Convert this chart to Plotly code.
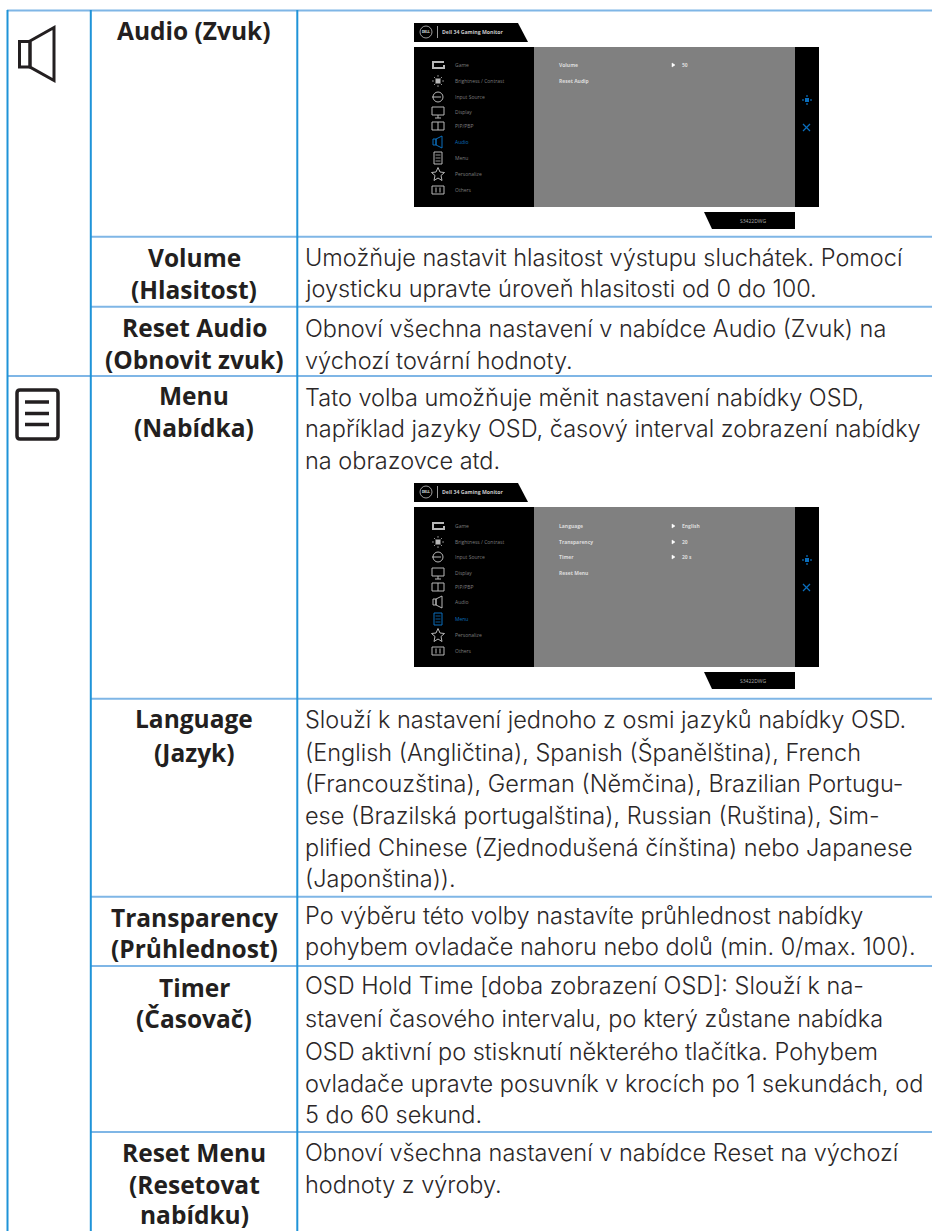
import plotly.graph_objects as go

W, H = 932, 1231
FONT = "Open Sans"
BODY = "Inter"
INK = "#231f20"

# ---------- content ----------
left_labels = ["Audio (Zvuk)", "Volume", "(Hlasitost)", "Reset Audio", "(Obnovit zvuk)", "Menu", "(Nabídka)",
               "Language", "(Jazyk)", "Transparency", "(Průhlednost)", "Timer", "(Časovač)",
               "Reset Menu", "(Resetovat", "nabídku)"]
right_lines = ["Umožňuje nastavit hlasitost výstupu sluchátek. Pomocí",
               "joysticku upravte úroveň hlasitosti od 0 do 100.",
               "Obnoví všechna nastavení v nabídce Audio (Zvuk) na",
               "výchozí tovární hodnoty.",
               "Tato volba umožňuje měnit nastavení nabídky OSD,",
               "například jazyky OSD, časový interval zobrazení nabídky",
               "na obrazovce atd.",
               "Slouží k nastavení jednoho z osmi jazyků nabídky OSD.",
               "(English (Angličtina), Spanish (Španělština), French",
               "(Francouzština), German (Němčina), Brazilian Portugu-",
               "ese (Brazilská portugalština), Russian (Ruština), Sim-",
               "plified Chinese (Zjednodušená čínština) nebo Japanese",
               "(Japonština)).",
               "Po výběru této volby nastavíte průhlednost nabídky",
               "pohybem ovladače nahoru nebo dolů (min. 0/max. 100).",
               "OSD Hold Time [doba zobrazení OSD]: Slouží k na-",
               "stavení časového intervalu, po který zůstane nabídka",
               "OSD aktivní po stisknutí některého tlačítka. Pohybem",
               "ovladače upravte posuvník v krocích po 1 sekundách, od",
               "5 do 60 sekund.",
               "Obnoví všechna nastavení v nabídce Reset na výchozí",
               "hodnoty z výroby."]
osd_menu = ["Game", "Brightness / Contrast", "Input Source", "Display", "PIP/PBP", "Audio", "Menu", "Personalize", "Others"]
osd_title = "Dell 34 Gaming Monitor"
osd_model = "S3422DWG"
osd1_items = ["Volume", "Reset Audip"]
osd1_vals = ["50"]
osd2_items = ["Language", "Transparency", "Timer", "Reset Menu"]
osd2_vals = ["English", "20", "20 s"]

# ---------- layout positions (page pixels) ----------
left_y = [30, 257, 289, 327, 359, 395, 427, 718, 752, 917, 948, 987, 1018, 1152, 1184, 1214]
right_y = [257, 288, 328, 360, 397, 428, 460, 719, 752, 783, 815, 847, 878, 915, 946, 985, 1018, 1051, 1083, 1114, 1152, 1184]
h_rules = [236.7, 306.7, 376, 698.7, 896.7, 966, 1132]

shapes, ann = [], []

def txt(x, y, s, size, color=INK, bold=False, anchor="left", font=FONT, weight=None):
    f = dict(family=font, size=size, color=color)
    if weight:
        f["weight"] = weight
    ann.append(dict(x=x, y=y, text=f"<b>{s}</b>" if bold else s, showarrow=False, xanchor=anchor, yanchor="middle",
                    xref="x", yref="y", font=f, borderpad=0, borderwidth=0))

def rect(x0, y0, x1, y1, fill, line=None, lw=0):
    shapes.append(dict(type="rect", x0=x0, y0=y0, x1=x1, y1=y1, fillcolor=fill, line=dict(color=line or fill, width=lw), layer="above"))

def poly(pts, fill="rgba(0,0,0,0)", line=INK, lw=1.0, close=True):
    d = "M" + " L".join(f"{x},{y}" for x, y in pts) + (" Z" if close else "")
    shapes.append(dict(type="path", path=d, fillcolor=fill, line=dict(color=line, width=lw), layer="above"))

def seg(x0, y0, x1, y1, color, lw):
    shapes.append(dict(type="line", x0=x0, y0=y0, x1=x1, y1=y1, line=dict(color=color, width=lw), layer="above"))

# ---------- table rules ----------
V_C, H_C = "#1f93d8", "#7fb6e6"
seg(7, 10.5, 932, 10.5, H_C, 2)
for y in h_rules:
    seg(91, y, 932, y, H_C, 2)
seg(7, 376, 91, 376, H_C, 2)
seg(7.5, 10, 7.5, H, V_C, 2)
seg(90.8, 10, 90.8, H, V_C, 2)
seg(297.3, 10, 297.3, H, V_C, 2)

# ---------- left icons ----------
rect(19.5, 41.5, 30, 67, "rgba(0,0,0,0)", INK, 3)
poly([(30, 41), (54, 27.5), (54, 80.5), (30, 67)], line=INK, lw=3)
shapes.append(dict(type="path", path="M20,390 L55,390 Q58,390 58,393 L58,436 Q58,439 55,439 L20,439 Q17,439 17,436 L17,393 Q17,390 20,390 Z",
                   line=dict(color=INK, width=3.5), fillcolor="rgba(0,0,0,0)", layer="above"))
for y in (402, 413.5, 424.5):
    seg(25, y, 49, y, INK, 3.5)

# ---------- table text ----------
for s, y in zip(left_labels, left_y):
    txt(194, y, s, 24.5, bold=True, anchor="center")
for s, y in zip(right_lines, right_y):
    txt(305, y, s, 23.5, font=BODY, weight=300, color="#2b2728")

# ---------- OSD screenshots ----------
def speaker(x, y, c):
    rect(x - 3, y - 3, x, y + 3, "rgba(0,0,0,0)", c, 1)
    poly([(x, y - 3), (x + 6, y - 6), (x + 6, y + 6), (x, y + 3)], line=c, lw=1)

def osd_icon(i, x, y, c):
    if i == 0:
        poly([(x + 6, y - 3), (x - 5, y - 3), (x - 5, y + 3), (x + 6, y + 3), (x + 6, y)], line=c, lw=2, close=False)
    elif i == 1:
        rect(x - 2.5, y - 2.5, x + 2.5, y + 2.5, c)
        for dx, dy in [(-6, 0), (6, 0), (0, -6), (0, 6), (-4, -4), (4, 4), (-4, 4), (4, -4)]:
            seg(x + dx * .7, y + dy * .7, x + dx, y + dy, c, .8)
    elif i == 2:
        shapes.append(dict(type="circle", x0=x - 5, y0=y - 5, x1=x + 5, y1=y + 5, line=dict(color=c, width=1), layer="above"))
        seg(x - 6, y, x + 3, y, c, 1)
    elif i == 3:
        rect(x - 6, y - 5, x + 6, y + 3, "rgba(0,0,0,0)", c, 1)
        seg(x, y + 3, x, y + 6, c, 1)
        seg(x - 3, y + 6, x + 3, y + 6, c, 1)
    elif i == 4:
        rect(x - 6, y - 4, x + 6, y + 4, "rgba(0,0,0,0)", c, 1)
        seg(x, y - 4, x, y + 4, c, 1)
    elif i == 5:
        speaker(x - 2, y, c)
    elif i == 6:
        rect(x - 4, y - 6, x + 4, y + 6, "rgba(0,0,0,0)", c, 1)
        for d in (-3, 0, 3):
            seg(x - 2.5, y + d, x + 2.5, y + d, c, .8)
    elif i == 7:
        poly([(x, y - 6.5), (x + 2, y - 2), (x + 6.5, y - 1.5), (x + 3, y + 1.5), (x + 4, y + 6.5), (x, y + 4),
              (x - 4, y + 6.5), (x - 3, y + 1.5), (x - 6.5, y - 1.5), (x - 2, y - 2)], line=c, lw=1)
    elif i == 8:
        rect(x - 6, y - 4, x + 6, y + 4, "rgba(0,0,0,0)", c, 1)
        seg(x - 2, y - 2.5, x - 2, y + 2.5, c, 1)
        seg(x + 2, y - 2.5, x + 2, y + 2.5, c, 1)

def osd(dy, row_y, active, items, item_y, vals, arrow_y):
    poly([(414, 23 + dy), (518, 23 + dy), (528, 42 + dy), (414, 42 + dy)], fill="#000000", line="#000000", lw=0)
    shapes.append(dict(type="circle", x0=420, y0=26 + dy, x1=432, y1=38 + dy, line=dict(color="#dddddd", width=.7), layer="above"))
    txt(426, 32 + dy, "DELL", 3.2, "#eeeeee", True, "center")
    seg(437.5, 26 + dy, 437.5, 38 + dy, "#dddddd", .7)
    txt(442, 32 + dy, osd_title, 5.2, "#c8c8c8", True)
    rect(414, 47 + dy, 534, 207 + dy, "#000000")
    rect(534, 47 + dy, 795, 207 + dy, "#808080")
    rect(795, 47 + dy, 819, 207 + dy, "#000000")
    for i, (s, y) in enumerate(zip(osd_menu, row_y)):
        c = "#0a6ebd" if i == active else "#b8b8b8"
        osd_icon(i, 438, y, c)
        txt(455, y, s, 5, c if i == active else "#7c7c7c")
    for s, y in zip(items, item_y):
        txt(559, y, s, 5, "#dcdcdc", True)
    for s, y in zip(vals, arrow_y):
        poly([(672, y - 2), (675, y), (672, y + 2)], fill="#ffffff", line="#ffffff", lw=.5)
        txt(682, y, s, 5, "#dcdcdc", True)
    # joystick + close
    cx, cy = 807, 100 + dy
    rect(cx - 2, cy - 2, cx + 2, cy + 2, "#0a6ebd")
    for a, b in [(-4, 0), (4, 0), (0, -4), (0, 4)]:
        rect(cx + a - .8, cy + b - .8, cx + a + .8, cy + b + .8, "#0a6ebd")
    seg(803, 124 + dy, 810, 131 + dy, "#0a6ebd", 1.2)
    seg(803, 131 + dy, 810, 124 + dy, "#0a6ebd", 1.2)
    poly([(704, 212 + dy), (795, 212 + dy), (795, 229 + dy), (712, 229 + dy)], fill="#000000", line="#000000", lw=0)
    txt(753, 220.5 + dy, osd_model, 5, "#aaaaaa", False, "center")

osd(0, [65, 81, 97, 112, 126, 142, 158, 174, 190], 5, osd1_items, [65, 81], osd1_vals, [65])
osd(460, [526, 542, 557, 573, 587, 602, 619, 635, 651], 6, osd2_items, [526, 542, 557, 573], osd2_vals, [526, 542, 557])

fig = go.Figure()
fig.add_trace(go.Scatter(x=[0, W], y=[0, H], mode="markers", marker=dict(opacity=0), hoverinfo="skip", showlegend=False))
fig.update_layout(width=W, height=H, margin=dict(l=0, r=0, t=0, b=0), paper_bgcolor="white", plot_bgcolor="white",
                  xaxis=dict(range=[0, W], visible=False, fixedrange=True),
                  yaxis=dict(range=[H, 0], visible=False, fixedrange=True),
                  shapes=shapes, annotations=ann, showlegend=False)
fig.write_html("out.html", config=dict(displayModeBar=False),
               post_script="document.body.style.margin='0';document.documentElement.style.overflow='hidden';")
